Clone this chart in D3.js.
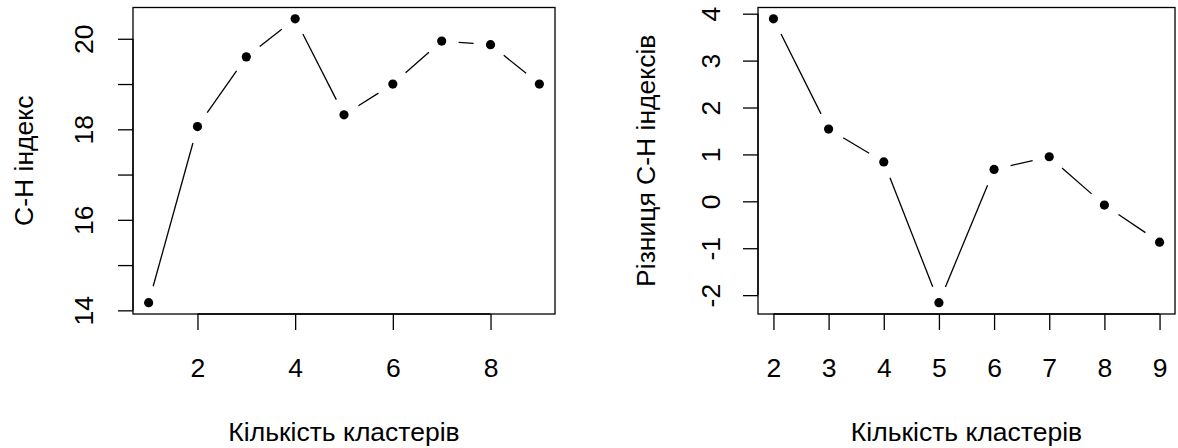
<!DOCTYPE html>
<html>
<head>
<meta charset="utf-8">
<script src="https://cdn.jsdelivr.net/npm/d3@7"></script>
<style>
  html, body { margin: 0; padding: 0; background: #fff; }
  svg { display: block; font-family: "Liberation Sans", Arial, sans-serif; }
</style>
</head>
<body>
<svg id="chart" width="1178" height="448"></svg>
<script>
// кількість кластерів і C-H індекс
const clustersA = [1, 2, 3, 4, 5, 6, 7, 8, 9];
const chIndex = [14.17, 18.06, 19.60, 20.44, 18.32, 19.00, 19.95, 19.87, 19.00];
const ticksXA = [2, 4, 6, 8];
const ticksYA = [14, 15, 16, 17, 18, 19, 20];
const labelsYA = [14, 16, 18, 20];

// різниця C-H індексів
const clustersB = [2, 3, 4, 5, 6, 7, 8, 9];
const chDiff = [3.89, 1.54, 0.84, -2.16, 0.68, 0.95, -0.08, -0.87];
const ticksXB = [2, 3, 4, 5, 6, 7, 8, 9];
const ticksYB = [-2, -1, 0, 1, 2, 3, 4];
const labelsYB = [-2, -1, 0, 1, 2, 3, 4];

const xTitle = 'Кількість кластерів';
const yTitleA = 'C-H індекс';
const yTitleB = 'Різниця C-H індексів';

const svg = d3.select('#chart');
const FS = 26.5;

// розширення діапазону на 4%, як у R
function pad(ext) {
  const d = (ext[1] - ext[0]) * 0.04;
  return [ext[0] - d, ext[1] + d];
}

function panel(opt) {
  const { box, xs, ys, xTicks, yTicks, yLabels, yTitle, yTickX, yTitleX } = opt;
  const x = d3.scaleLinear().domain(pad(d3.extent(xs))).range([box.l, box.r]);
  const y = d3.scaleLinear().domain(pad(d3.extent(ys))).range([box.b, box.t]);
  const g = svg.append('g');

  // рамка
  g.append('rect')
    .attr('x', box.l).attr('y', box.t)
    .attr('width', box.r - box.l).attr('height', box.b - box.t)
    .attr('fill', 'none').attr('stroke', '#000').attr('stroke-width', 1.3);

  // вісь X
  const xAxis = g.append('g')
    .attr('transform', `translate(0,${box.b})`)
    .call(d3.axisBottom(x).tickValues(xTicks).tickSize(16).tickFormat(d3.format('d')));
  xAxis.select('.domain')
    .attr('d', `M${x(xTicks[0])},0H${x(xTicks[xTicks.length - 1])}`)
    .attr('stroke-width', 1.3);
  xAxis.selectAll('line').attr('stroke-width', 1.3);
  xAxis.selectAll('text')
    .attr('y', 367 - box.b).attr('dy', '0.36em')
    .attr('font-size', FS).attr('font-family', null).attr('fill', '#000');

  // вісь Y
  const yAxis = g.append('g')
    .attr('transform', `translate(${box.l},0)`)
    .call(d3.axisLeft(y).tickValues(yTicks).tickSize(15).tickFormat(d => yLabels.includes(d) ? d : ''));
  yAxis.select('.domain')
    .attr('d', `M0,${y(yTicks[0])}V${y(yTicks[yTicks.length - 1])}`)
    .attr('stroke-width', 1.3);
  yAxis.selectAll('line').attr('stroke-width', 1.3);
  yAxis.selectAll('text')
    .attr('x', null)
    .attr('font-size', FS).attr('font-family', null).attr('fill', '#000')
    .attr('text-anchor', 'middle')
    .attr('transform', `translate(${yTickX - box.l},0) rotate(-90)`)
    .attr('dy', '0.36em');

  // підписи осей
  g.append('text')
    .attr('x', (box.l + box.r) / 2).attr('y', 441)
    .attr('text-anchor', 'middle').attr('font-size', FS)
    .text(xTitle);
  g.append('text')
    .attr('transform', `translate(${yTitleX},${(box.t + box.b) / 2}) rotate(-90)`)
    .attr('text-anchor', 'middle').attr('dy', '0.36em').attr('font-size', FS)
    .text(yTitle);

  // лінії type="b": відрізки з проміжками біля точок
  const gap = 17;
  const pts = xs.map((d, i) => [x(d), y(ys[i])]);
  const segs = d3.pairs(pts).map(([a, b]) => {
    const dx = b[0] - a[0], dy = b[1] - a[1];
    const len = Math.hypot(dx, dy);
    if (len <= 2 * gap) return null;
    const ux = dx / len, uy = dy / len;
    return [a[0] + ux * gap, a[1] + uy * gap, b[0] - ux * gap, b[1] - uy * gap];
  }).filter(Boolean);

  g.append('g').selectAll('line').data(segs).join('line')
    .attr('x1', d => d[0]).attr('y1', d => d[1])
    .attr('x2', d => d[2]).attr('y2', d => d[3])
    .attr('stroke', '#000').attr('stroke-width', 1.3);

  g.append('g').selectAll('circle').data(xs).join('circle')
    .attr('cx', d => x(d))
    .attr('cy', (d, i) => y(ys[i]))
    .attr('r', 4.6)
    .attr('fill', '#000');
}

panel({
  box: { l: 133, r: 555, t: 7.5, b: 314 },
  xs: clustersA, ys: chIndex,
  xTicks: ticksXA, yTicks: ticksYA, yLabels: labelsYA,
  yTitle: yTitleA, yTickX: 83, yTitleX: 23
});

panel({
  box: { l: 758, r: 1175, t: 7.5, b: 314 },
  xs: clustersB, ys: chDiff,
  xTicks: ticksXB, yTicks: ticksYB, yLabels: labelsYB,
  yTitle: yTitleB, yTickX: 710, yTitleX: 645
});
</script>
</body>
</html>
